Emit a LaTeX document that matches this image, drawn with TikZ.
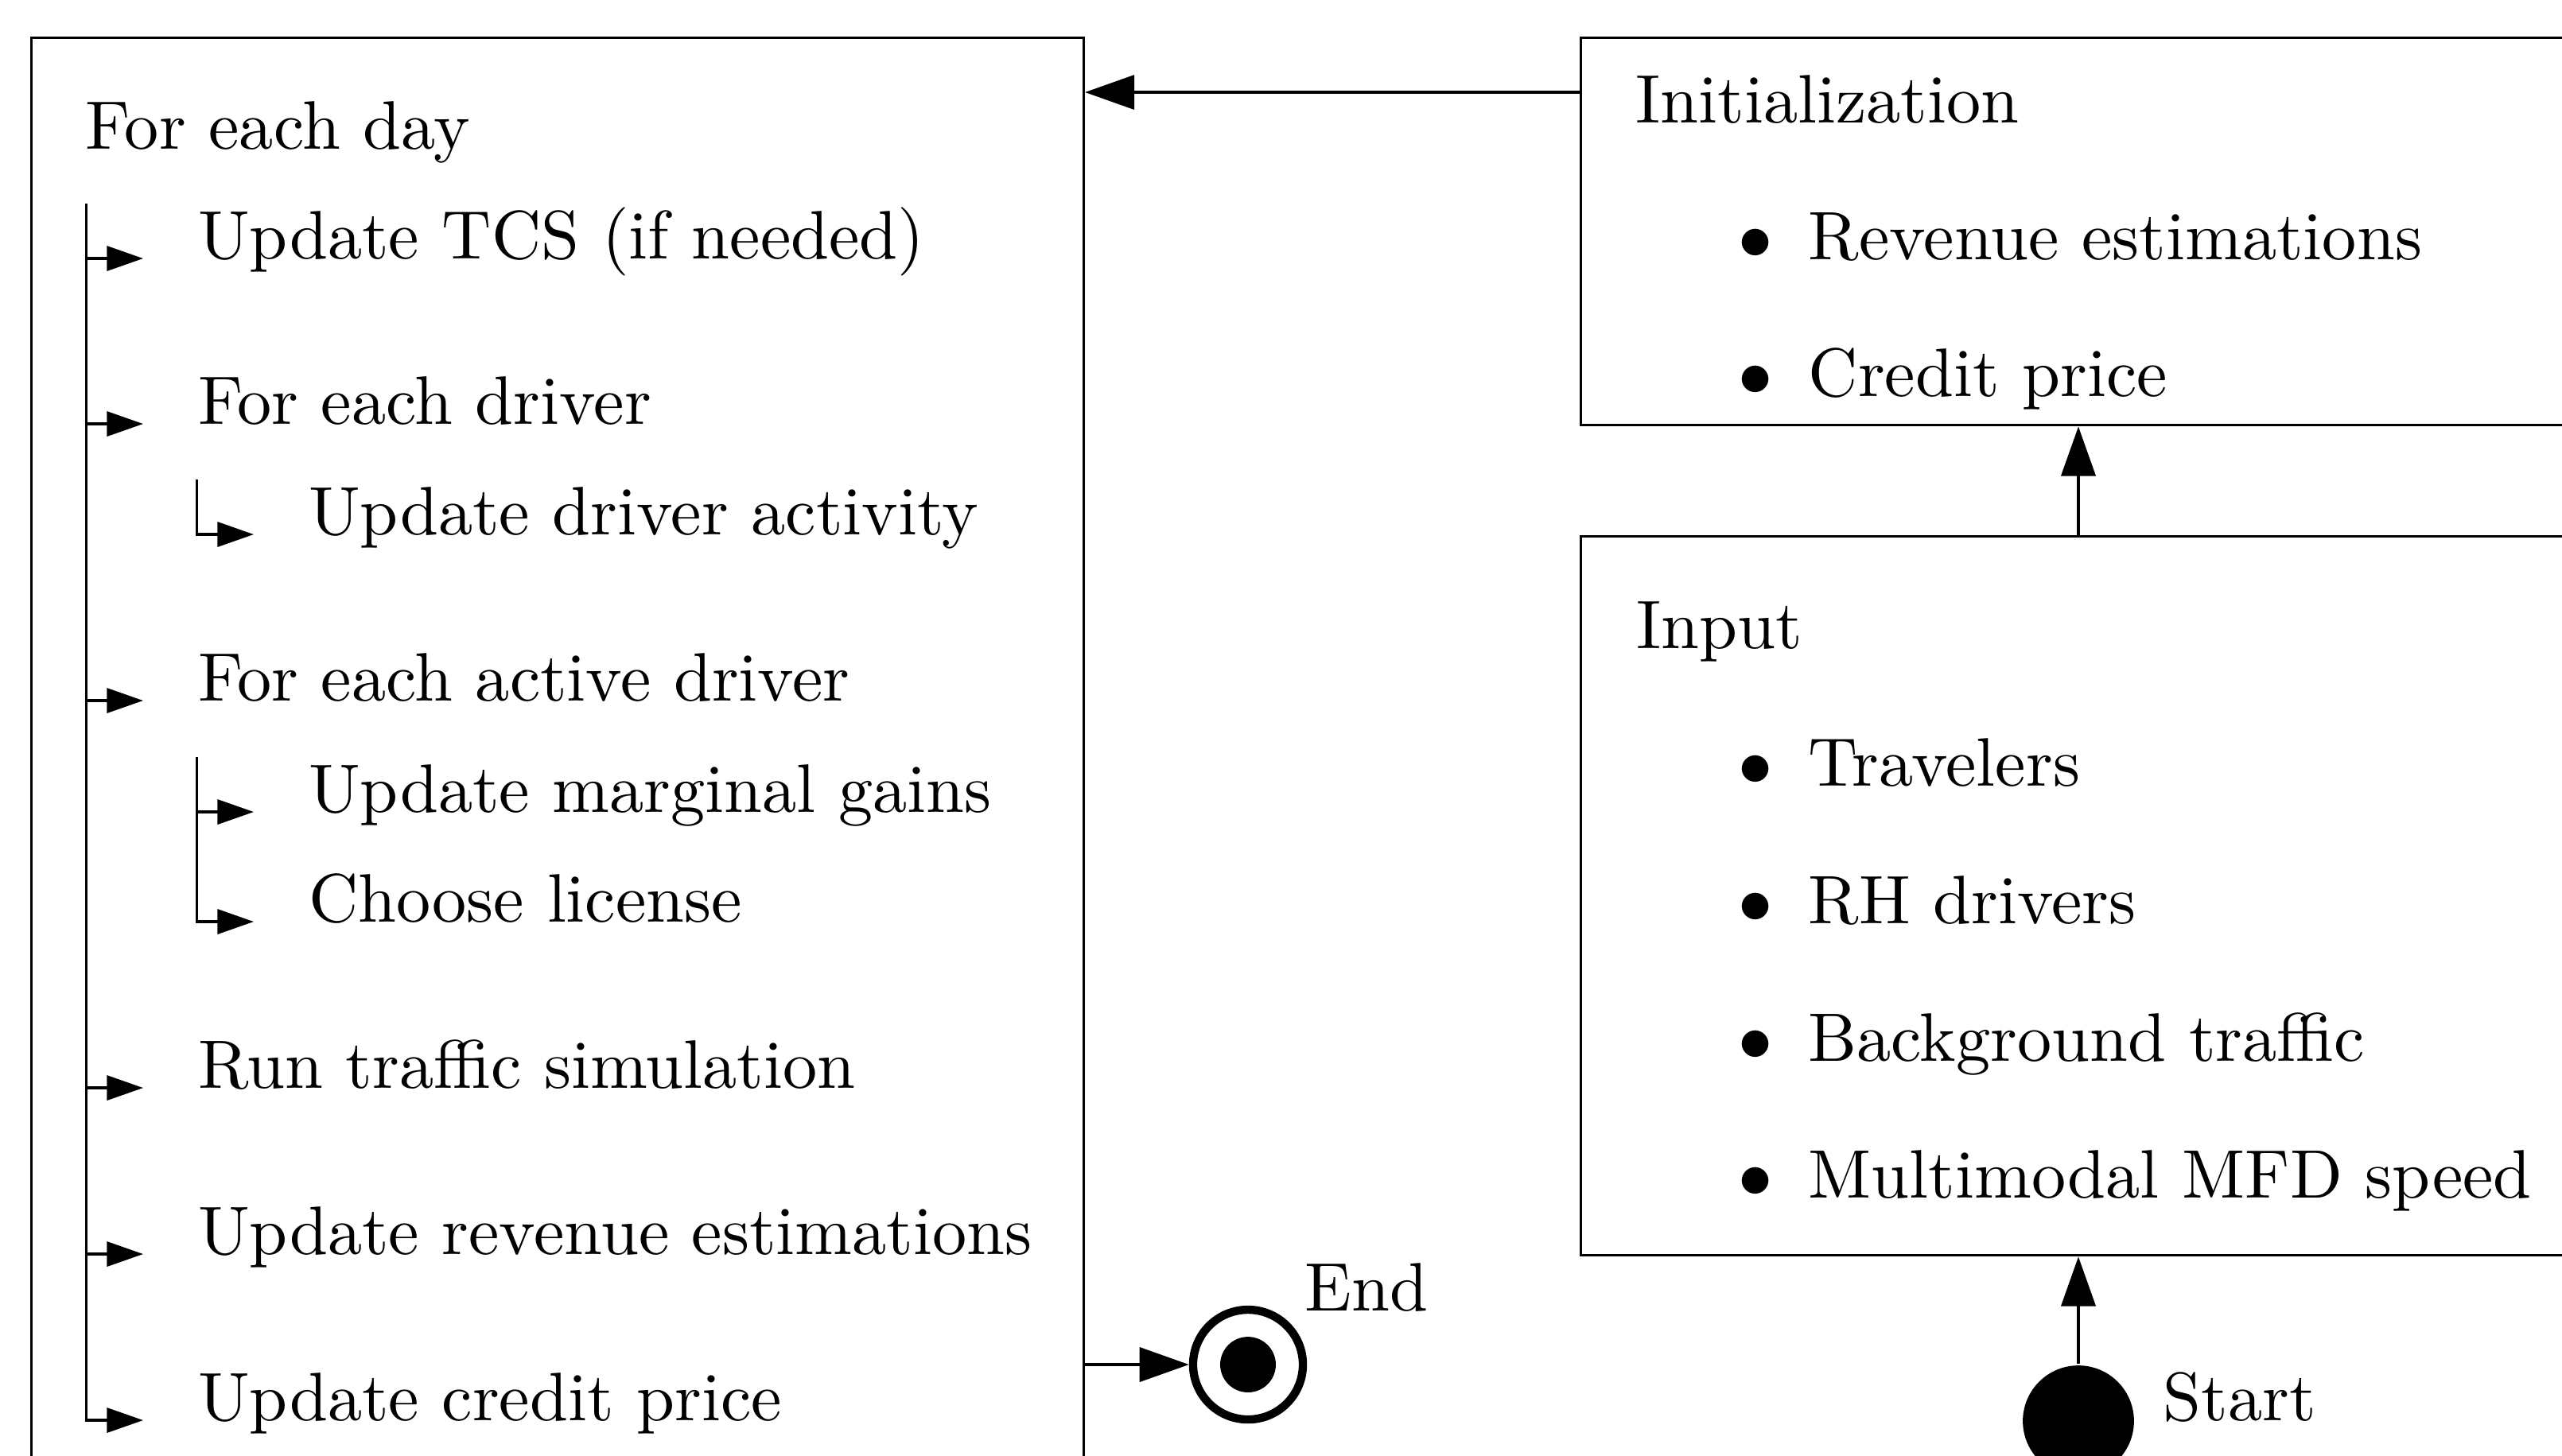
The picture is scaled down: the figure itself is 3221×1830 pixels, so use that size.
\documentclass[tikz,border=0pt]{standalone}
\usetikzlibrary{arrows.meta,calc}
\begin{document}
\begin{tikzpicture}[x=0.1159pt,y=-0.1159pt,
  box/.style={draw,line width=0.4pt,anchor=north west,inner sep=0pt},
  txt/.style={anchor=base west,inner sep=0pt},
  item/.style={anchor=base west,inner xsep=7.8pt,inner ysep=0pt},
  bul/.style={anchor=base,inner sep=0pt},
  big/.style={-{Triangle[length=7.2pt,width=5pt]},line width=0.4pt},
  small/.style={-{Triangle[length=5.3pt,width=3.6pt]},line width=0.4pt}]
\useasboundingbox (0,0) rectangle (3221,1830);
\clip (0,0) rectangle (3221,1830);

% boxes
\node[box,minimum width=153.3pt,minimum height=214.9pt] (loop) at (38,46) {};
\node[box,minimum width=162.3pt,minimum height=56.44pt] (init) at (1986,46) {};
\node[box,minimum width=162.3pt,minimum height=104.77pt] (input) at (1986,673) {};

% left box content
\node[txt] (day) at (106,187) {For each day};
\node[item] (t1) at (180,325) {Update TCS (if needed)};
\node[item] (t2) at (180,533) {For each driver};
\node[item] (s1) at (319,672) {Update driver activity};
\node[item] (t3) at (180,881) {For each active driver};
\node[item] (s2) at (319,1021) {Update marginal gains};
\node[item] (s3) at (319,1159) {Choose license};
\node[item] (t4) at (180,1368) {Run traffic simulation};
\node[item] (t5) at (180,1577) {Update revenue estimations};
\node[item] (t6) at (180,1786) {Update credit price};

\coordinate (trunk) at (108.5,256);
\coordinate (subA) at (247.5,603);
\coordinate (subB) at (247.5,952);
\draw[small] (trunk) |- (t6.base west);
\foreach \n in {t1,t2,t3,t4,t5}{
  \draw[small] (trunk |- \n.base west) -- (\n.base west);
}
\draw[small] (subA) |- (s1.base west);
\draw[small] (subB) |- (s3.base west);
\draw[small] (subB |- s2.base west) -- (s2.base west);

% initialization box content
\node[txt] (inittitle) at (2055,154) {Initialization};
\node[bul] (b1) at (2207,326) {$\bullet$};
\node[txt] (i1) at (2272,326) {Revenue estimations};
\node[bul] (b2) at (2207,498) {$\bullet$};
\node[txt] (i2) at (2272,498) {Credit price};

% input box content
\node[txt] (inputtitle) at (2056,815) {Input};
\node[bul] (b3) at (2207,988) {$\bullet$};
\node[txt] (p1) at (2272,988) {Travelers};
\node[bul] (b4) at (2207,1161) {$\bullet$};
\node[txt] (p2) at (2272,1161) {RH drivers};
\node[bul] (b5) at (2207,1334) {$\bullet$};
\node[txt] (p3) at (2272,1334) {Background traffic};
\node[bul] (b6) at (2207,1506) {$\bullet$};
\node[txt] (p4) at (2272,1506) {Multimodal MFD speed};

% start and end
\node[circle,fill,inner sep=0pt,minimum size=16.2pt] (start) at (2613,1787) {};
\node[txt] (startlabel) at (2718,1786) {Start};
\node[circle,draw,line width=1.2pt,inner sep=0pt,minimum size=16pt] (endc) at (1569,1716) {};
\node[circle,fill,inner sep=0pt,minimum size=8.1pt] (enddot) at (endc) {};
\node[txt] (endlabel) at (1639,1648) {End};

% connectors
\draw[big] ($(init.north west)+(0,70)$) -- ($(loop.north east)+(0,70)$);
\draw[big] (start) -- (start |- input.south);
\draw[big] (start |- input.north) -- (start |- init.south);
\draw[big] (loop.east |- endc) -- (endc);
\end{tikzpicture}
\end{document}
